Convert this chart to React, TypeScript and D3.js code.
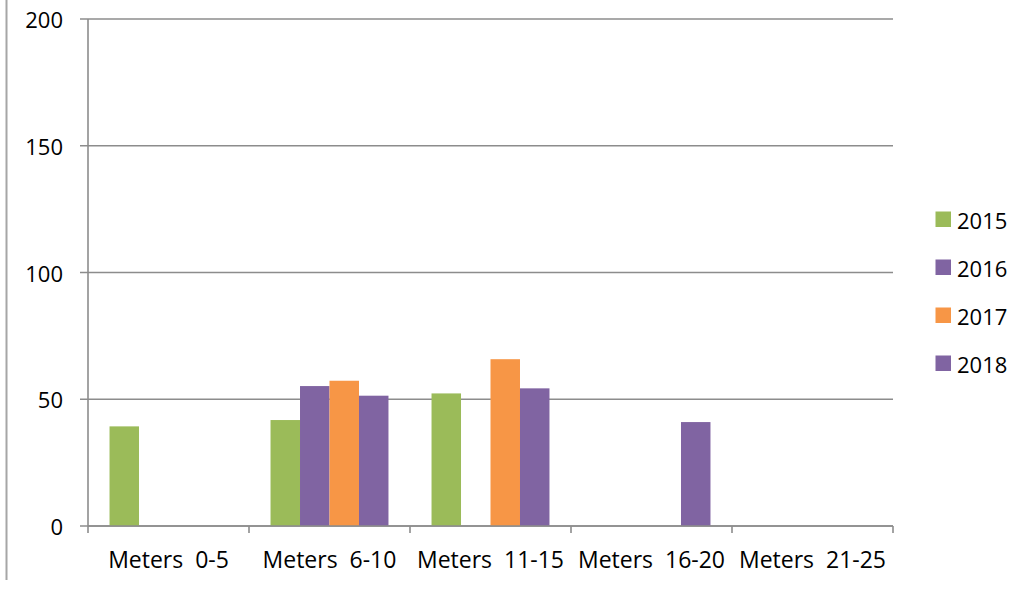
import React from "react";
import * as d3 from "d3";

const categories = ["Meters  0-5", "Meters  6-10", "Meters  11-15", "Meters  16-20", "Meters  21-25"];
const seriesNames = ["2015", "2016", "2017", "2018"];
const seriesColors = ["#9BBB59", "#8064A2", "#F79646", "#8064A2"];
const values2015 = [39.3, 41.8, 52.3, 0, 0];
const values2016 = [0, 55.2, 0, 0, 0];
const values2017 = [0, 57.3, 65.8, 0, 0];
const values2018 = [0, 51.4, 54.3, 41, 0];
const yTicks = [0, 50, 100, 150, 200];

const seriesValues = [values2015, values2016, values2017, values2018];

export default function App() {
  const W = 1034, H = 590;
  const left = 88, right = 893, top = 19, bottom = 526;
  const x = d3.scaleBand<string>().domain(categories).range([left, right]).paddingInner(0).paddingOuter(0);
  const inner = d3.scaleBand<string>().domain(seriesNames).range([0, x.bandwidth()]).paddingOuter(0.73).paddingInner(0);
  const y = d3.scaleLinear().domain([0, 200]).range([bottom, top]);
  const font = "'Open Sans', sans-serif";
  const grid = "#8c8c8c";

  const tickXs = categories.map((c) => x(c)!).concat([right]);

  return (
    <svg width={W} height={H} style={{ position: "absolute", left: 0, top: 0, background: "#fff" }}>
      <line x1={6.5} x2={6.5} y1={0} y2={580} stroke="#a6a6a6" strokeWidth={2} />
      {yTicks.map((t) => (
        <g key={t}>
          <line x1={80} x2={right} y1={y(t)} y2={y(t)} stroke={grid} strokeWidth={1.6} />
          <text x={63} y={y(t)} textAnchor="end" dominantBaseline="central" fontFamily={font} fontSize={22} fill="#000">
            {t}
          </text>
        </g>
      ))}
      <line x1={left} x2={left} y1={top} y2={bottom} stroke={grid} strokeWidth={1.6} />
      {tickXs.map((tx, i) => (
        <line key={i} x1={tx} x2={tx} y1={bottom} y2={bottom + 7} stroke={grid} strokeWidth={1.6} />
      ))}
      {seriesValues.map((vals, si) =>
        vals.map((v, ci) =>
          v > 0 ? (
            <rect
              key={`${si}-${ci}`}
              x={x(categories[ci])! + inner(seriesNames[si])!}
              y={y(v)}
              width={inner.bandwidth()}
              height={y(0) - y(v)}
              fill={seriesColors[si]}
            />
          ) : null
        )
      )}
      <line x1={left} x2={right} y1={bottom} y2={bottom} stroke={grid} strokeWidth={1.6} />
      {categories.map((c) => (
        <text key={c} x={x(c)! + x.bandwidth() / 2} y={568} textAnchor="middle" fontFamily={font} fontSize={23} fill="#000" style={{ whiteSpace: "pre" }}>
          {c}
        </text>
      ))}
      {seriesNames.map((s, i) => {
        const ly = [219.5, 267.5, 315.5, 363.5][i];
        return (
          <g key={s}>
            <rect x={935.5} y={ly - 8} width={15.5} height={15.5} fill={seriesColors[i]} />
            <text x={957} y={ly} dominantBaseline="central" fontFamily={font} fontSize={22} fill="#000">
              {s}
            </text>
          </g>
        );
      })}
    </svg>
  );
}
